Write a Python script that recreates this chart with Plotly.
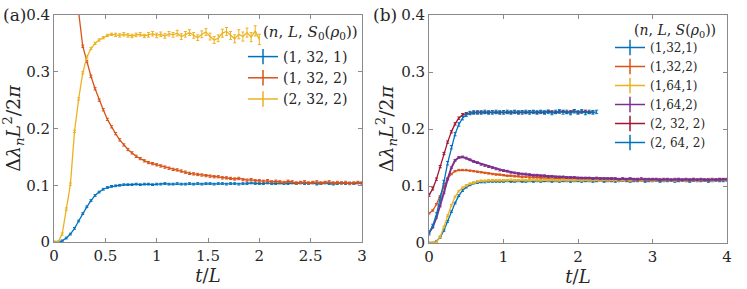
import numpy as np
import plotly.graph_objects as go

W, H = 747, 289

# ---------------- Panel (a) data (dt = 0.04) ----------------
dt_a = 0.04
a_blue = [0.000,0.000,0.002,0.007,0.014,0.024,0.037,0.050,0.062,0.073,
          0.082,0.088,0.093,0.096,0.098,0.099,0.100,0.101,0.101,0.101,
          0.102,0.101,0.102,0.102,0.101,0.102,0.102,0.103,0.102,0.102,
          0.103,0.102,0.102,0.103,0.102,0.103,0.102,0.103,0.103,0.102,
          0.103,0.103,0.102,0.103,0.103,0.102,0.103,0.103,0.104,0.103,
          0.103,0.103,0.104,0.103,0.103,0.104,0.103,0.103,0.104,0.103,
          0.104,0.103,0.103,0.104,0.102,0.103,0.104,0.103,0.102,0.103,
          0.104,0.103,0.104,0.103,0.104,0.104]
a_red = [0.900,0.800,0.690,0.590,0.510,0.445,0.405,0.345,0.318,0.292,
         0.270,0.250,0.233,0.216,0.203,0.191,0.180,0.171,0.163,0.157,
         0.151,0.147,0.143,0.140,0.138,0.136,0.134,0.132,0.130,0.128,
         0.127,0.125,0.123,0.121,0.120,0.119,0.118,0.117,0.116,0.115,
         0.115,0.113,0.113,0.112,0.111,0.112,0.110,0.109,0.110,0.108,
         0.108,0.107,0.108,0.106,0.107,0.106,0.105,0.107,0.106,0.104,
         0.105,0.106,0.104,0.105,0.106,0.104,0.105,0.106,0.104,0.105,
         0.104,0.105,0.103,0.104,0.105,0.104]
a_yellow = [0.000,0.000,0.014,0.058,0.102,0.195,0.252,0.298,0.326,0.341,
            0.350,0.356,0.360,0.364,0.366,0.365,0.364,0.366,0.364,0.363,
            0.365,0.366,0.363,0.365,0.367,0.364,0.366,0.363,0.367,0.365,
            0.368,0.362,0.366,0.369,0.364,0.360,0.366,0.370,0.362,0.356,
            0.359,0.368,0.371,0.364,0.358,0.366,0.362,0.369,0.361,0.372,
            0.357]
a_yellow_err = [0.001,0.001,0.002,0.002,0.002,0.002,0.002,0.002,0.002,0.002,
                0.002,0.002,0.002,0.002,0.002,0.003,0.003,0.003,0.003,0.003,
                0.003,0.003,0.003,0.004,0.004,0.004,0.004,0.004,0.004,0.004,
                0.005,0.005,0.005,0.005,0.005,0.005,0.006,0.006,0.006,0.006,
                0.006,0.007,0.007,0.007,0.007,0.008,0.008,0.008,0.008,0.009,
                0.009]
a_labels = ["(1, 32, 1)", "(1, 32, 2)", "(2, 32, 2)"]

# ---------------- Panel (b) data (dt = 0.05) ----------------
dt_b = 0.05
b_1_32_1 = [0.000,0.000,0.003,0.010,0.022,0.038,0.055,0.070,0.083,0.092,
            0.098,0.102,0.105,0.106,0.107,0.107,0.108,0.108,0.108,0.108,
            0.108,0.109,0.108,0.108,0.109,0.108,0.108,0.109,0.108,0.109,
            0.108,0.109,0.109,0.108,0.109,0.108,0.109,0.109,0.108,0.109,
            0.109,0.108,0.109,0.109,0.108,0.109,0.110,0.108,0.109,0.109,
            0.108,0.109,0.110,0.109,0.108,0.109,0.109,0.110,0.108,0.109,
            0.109,0.110,0.108,0.109,0.109,0.110,0.108,0.109,0.110,0.109,
            0.108,0.110,0.109,0.109,0.110,0.108,0.109,0.110,0.109,0.109,
            0.110]
b_1_32_2 = [0.052,0.057,0.068,0.082,0.099,0.113,0.121,0.126,0.128,0.128,
            0.128,0.127,0.126,0.125,0.124,0.123,0.122,0.121,0.120,0.120,
            0.119,0.118,0.118,0.117,0.117,0.116,0.116,0.115,0.115,0.115,
            0.114,0.114,0.114,0.113,0.113,0.113,0.112,0.112,0.112,0.112,
            0.112,0.111,0.112,0.111,0.111,0.111,0.110,0.111,0.111,0.110,
            0.111,0.110,0.111,0.110,0.110,0.111,0.110,0.110,0.111,0.110,
            0.110,0.111,0.110,0.110,0.111,0.110,0.110,0.111,0.110,0.111,
            0.110,0.110,0.111,0.110,0.111,0.110,0.110,0.111,0.110,0.111,
            0.111]
b_1_64_1 = [0.000,0.000,0.002,0.011,0.028,0.048,0.066,0.081,0.091,0.097,
            0.101,0.104,0.106,0.108,0.109,0.109,0.110,0.110,0.110,0.110,
            0.110,0.110,0.111,0.110,0.110,0.111,0.110,0.110,0.111,0.110,
            0.110,0.111,0.110,0.111,0.110,0.110,0.111,0.110,0.111,0.110,
            0.111,0.110,0.111,0.110,0.111,0.111,0.110,0.111,0.110,0.111,
            0.111,0.110,0.111,0.111,0.110,0.111,0.112,0.110,0.111,0.111,
            0.110,0.111,0.112,0.110,0.111,0.111,0.110,0.112,0.111,0.110,
            0.111,0.112,0.110,0.111,0.111,0.112,0.110,0.111,0.112,0.111,
            0.111]
b_1_64_2 = [0.018,0.028,0.045,0.065,0.088,0.112,0.132,0.145,0.150,0.151,
            0.149,0.146,0.143,0.141,0.138,0.136,0.134,0.132,0.130,0.128,
            0.127,0.126,0.124,0.123,0.122,0.121,0.121,0.120,0.119,0.119,
            0.118,0.118,0.117,0.117,0.116,0.116,0.116,0.115,0.115,0.115,
            0.114,0.114,0.114,0.114,0.113,0.114,0.113,0.113,0.113,0.113,
            0.113,0.112,0.113,0.112,0.113,0.112,0.112,0.113,0.112,0.112,
            0.112,0.112,0.111,0.112,0.112,0.111,0.112,0.112,0.111,0.112,
            0.111,0.112,0.111,0.112,0.111,0.111,0.112,0.111,0.112,0.112,
            0.112]
b_2_32_2 = [0.084,0.095,0.112,0.134,0.157,0.177,0.195,0.209,0.219,0.225,
            0.227,0.228,0.229,0.229,0.229,0.229,0.229,0.230,0.229,0.229,
            0.230,0.229,0.229,0.230,0.229,0.230,0.229,0.230,0.230,0.229,
            0.230,0.229,0.231,0.230,0.229,0.230,0.231,0.229,0.230,0.232,
            0.229,0.230,0.231,0.229,0.230]
b_2_64_2 = [0.017,0.030,0.050,0.077,0.107,0.140,0.168,0.191,0.208,0.219,
            0.225,0.228,0.229,0.229,0.229,0.230,0.229,0.229,0.230,0.229,
            0.229,0.230,0.229,0.230,0.229,0.229,0.230,0.229,0.230,0.229,
            0.230,0.229,0.230,0.228,0.230,0.231,0.229,0.230,0.228,0.231,
            0.229,0.231,0.228,0.230,0.229,0.230]
b_labels = ["(1,32,1)", "(1,32,2)", "(1,64,1)", "(1,64,2)", "(2, 32, 2)", "(2, 64, 2)"]

BLUE, ORANGE, YELLOW, PURPLE, DRED = "#0072BD", "#D95319", "#EDB120", "#7E2F8E", "#A2142F"
SERIF = "DejaVu Serif"
TXT = "#262626"

fig = go.Figure()

def add_series(vals, dt, color, err, xa, ya, lw=1.3):
    t = np.round(np.arange(len(vals)) * dt, 4)
    e = err if isinstance(err, list) else [err] * len(vals)
    fig.add_trace(go.Scatter(
        x=t, y=vals, mode="lines", line=dict(color=color, width=lw),
        error_y=dict(type="data", array=e, visible=True, color=color, thickness=1, width=1.5),
        xaxis=xa, yaxis=ya, showlegend=False, hoverinfo="skip"))

def add_legend_item(name, color, legend):
    fig.add_trace(go.Scatter(
        x=[None], y=[None], mode="lines+markers", name=name,
        line=dict(color=color, width=1.5),
        marker=dict(symbol="line-ns", size=11, color=color, line=dict(color=color, width=1.5)),
        legend=legend, xaxis="x", yaxis="y"))

# panel (a)
add_series(a_blue, dt_a, BLUE, 0.0015, "x", "y")
add_series(a_red, dt_a, ORANGE, 0.002, "x", "y")
add_series(a_yellow, dt_a, YELLOW, a_yellow_err, "x", "y")
for lab, c in zip(a_labels, [BLUE, ORANGE, YELLOW]):
    add_legend_item(lab, c, "legend")

# panel (b)
add_series(b_1_32_1, dt_b, BLUE, 0.0015, "x2", "y2")
add_series(b_1_32_2, dt_b, ORANGE, 0.0012, "x2", "y2")
add_series(b_1_64_1, dt_b, YELLOW, 0.0015, "x2", "y2")
add_series(b_1_64_2, dt_b, PURPLE, 0.0015, "x2", "y2", lw=2)
add_series(b_2_32_2, dt_b, DRED, 0.002, "x2", "y2")
add_series(b_2_64_2, dt_b, BLUE, 0.003, "x2", "y2")
for lab, c in zip(b_labels, [BLUE, ORANGE, YELLOW, PURPLE, DRED, BLUE]):
    add_legend_item(lab, c, "legend2")

def px_x(p):
    return p / W

def px_y(p):
    return 1 - p / H

ax_common = dict(showgrid=False, zeroline=False, showline=True, linecolor="#8a8a8a", linewidth=1,
                 mirror="ticks", ticks="inside", ticklen=4, tickcolor="#8a8a8a", automargin=False,
                 tickfont=dict(family=SERIF, size=15, color=TXT))

ytitle = "Δ<i>λ<sub>n</sub>L</i><sup>2</sup>/2<i>π</i>"
fig.update_layout(
    template="none",
    width=W, height=H, margin=dict(l=0, r=0, t=0, b=0, pad=0, autoexpand=False),
    paper_bgcolor="white", plot_bgcolor="white",
    font=dict(family=SERIF, color=TXT),
    xaxis=dict(domain=[px_x(54), px_x(362)], range=[0, 3], tickvals=[0, 0.5, 1, 1.5, 2, 2.5, 3],
               ticktext=["0", "0.5", "1", "1.5", "2", "2.5", "3"],
               title=dict(text="<i>t</i>/<i>L</i>", font=dict(family=SERIF, size=18, color=TXT), standoff=0),
               anchor="y", **ax_common),
    yaxis=dict(domain=[px_y(242), px_y(15)], range=[0, 0.4], tickvals=[0, 0.1, 0.2, 0.3, 0.4],
               ticktext=["0", "0.1", "0.2", "0.3", "0.4"],
               title=dict(text=ytitle, font=dict(family=SERIF, size=19, color=TXT), standoff=2),
               anchor="x", **ax_common),
    xaxis2=dict(domain=[px_x(429), px_x(727)], range=[0, 4], tickvals=[0, 1, 2, 3, 4],
                title=dict(text="<i>t</i>/<i>L</i>", font=dict(family=SERIF, size=18, color=TXT), standoff=0),
                anchor="y2", **ax_common),
    yaxis2=dict(domain=[px_y(243), px_y(15)], range=[0, 0.4], tickvals=[0, 0.1, 0.2, 0.3, 0.4],
                ticktext=["0", "0.1", "0.2", "0.3", "0.4"],
                title=dict(text=ytitle, font=dict(family=SERIF, size=19, color=TXT), standoff=2),
                anchor="x2", **ax_common),
    legend=dict(x=px_x(243), y=px_y(41), xanchor="left", yanchor="top", bgcolor="rgba(0,0,0,0)",
                font=dict(family=SERIF, size=14, color=TXT), itemwidth=30),
    legend2=dict(x=px_x(610), y=px_y(33), xanchor="left", yanchor="top", bgcolor="rgba(0,0,0,0)",
                 font=dict(family=SERIF, size=12, color=TXT), itemwidth=30),
    annotations=[
        dict(text="(a)", x=px_x(1), y=px_y(15), xref="paper", yref="paper", xanchor="left", yanchor="middle",
             showarrow=False, font=dict(family=SERIF, size=17, color=TXT)),
        dict(text="(b)", x=px_x(371), y=px_y(15), xref="paper", yref="paper", xanchor="left", yanchor="middle",
             showarrow=False, font=dict(family=SERIF, size=17, color=TXT)),
        dict(text="(<i>n</i>, <i>L</i>, <i>S</i><sub>0</sub>(<i>ρ</i><sub>0</sub>))", x=px_x(261), y=px_y(33),
             xref="paper", yref="paper", xanchor="left", yanchor="middle", showarrow=False,
             font=dict(family=SERIF, size=15, color=TXT)),
        dict(text="(<i>n</i>, <i>L</i>, <i>S</i>(<i>ρ</i><sub>0</sub>))", x=px_x(632), y=px_y(31),
             xref="paper", yref="paper", xanchor="left", yanchor="middle", showarrow=False,
             font=dict(family=SERIF, size=14, color=TXT)),
    ],
)

fig.write_html("out.html", config={"displayModeBar": False},
               post_script="document.body.style.margin='0';")
